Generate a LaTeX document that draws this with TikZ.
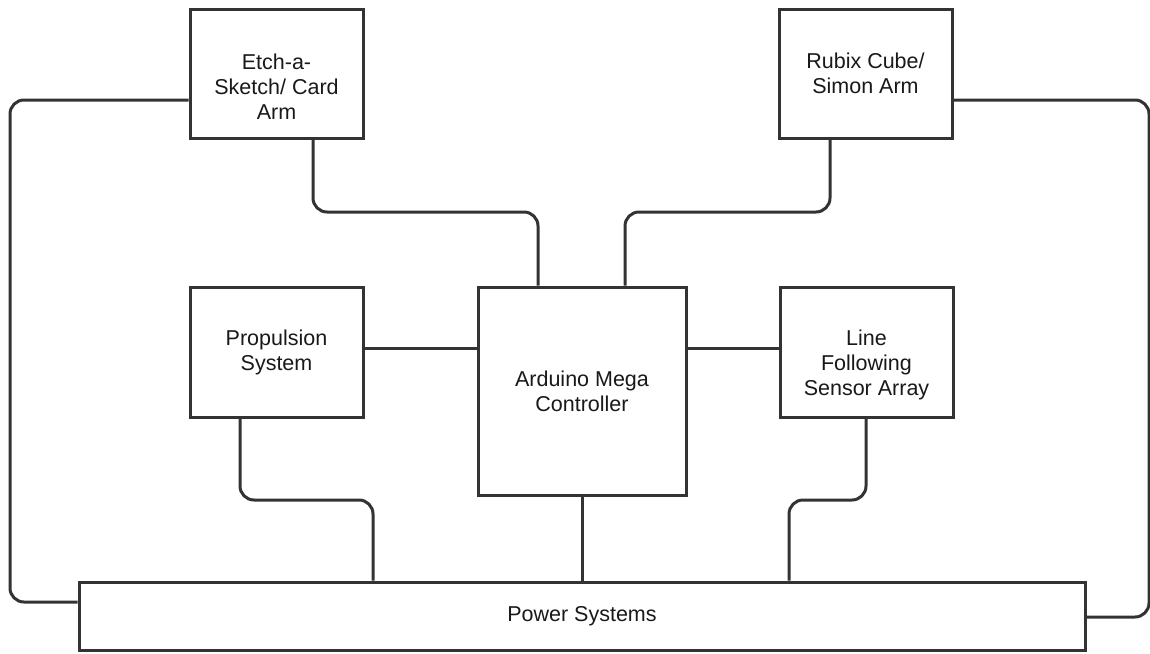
\documentclass[tikz,border=0pt]{standalone}
\usepackage{fontspec}
\setmainfont{Liberation Sans}
\usepackage{tikz}
\usetikzlibrary{positioning}
\definecolor{mgray}{rgb}{0.2, 0.2, 0.2}
\tikzset{block/.style = {draw=mgray, line width=3pt, fill=white, inner sep=0pt,
                         align=center, text=black!90}}
\tikzset{blocktext/.style = {align=center, text=black!90, inner sep=0pt}}
\tikzset{wire/.style = {draw=mgray, line width=3pt, rounded corners=14pt}}

\begin{document}
\begin{tikzpicture}[x=1pt, y=-1pt, font=\fontsize{21.5}{25}\selectfont]
      \useasboundingbox (0, 0) rectangle (1150, 653);
      \node [block, minimum width=173pt, minimum height=129pt] (etch) at (276.5, 73.5) {};
      \node [blocktext] (etchtext) at ([yshift=-13pt]etch.center) {Etch-a-\\Sketch/ Card\\Arm};
      \node [block, minimum width=173pt, minimum height=129pt] (rubix) at (865.5, 73.5) {Rubix Cube/\\Simon Arm};
      \node [block, minimum width=173pt, minimum height=130pt] (prop) at (276.5, 352) {Propulsion\\System};
      \node [block, minimum width=208pt, minimum height=208pt] (ard) at (582, 391) {Arduino Mega\\Controller};
      \node [block, minimum width=173pt, minimum height=130pt] (line) at (866.5, 352) {};
      \node [blocktext] (linetext) at ([yshift=-13pt]line.center) {Line\\Following\\Sensor Array};
      \node [block, minimum width=1006pt, minimum height=68pt] (power) at (582, 616) {Power Systems};
      \draw [wire] (etch.south -| 313, 0) -- (313, 212) -- (538, 212) -- (ard.north -| 538, 0);
      \draw [wire] (rubix.south -| 830, 0) -- (830, 212) -- (625, 212) -- (ard.north -| 625, 0);
      \draw [wire] ([yshift=-26.5pt]etch.west) -- (10, 100) -- (10, 602) -- (power.west |- 0, 602);
      \draw [wire] ([yshift=-26.5pt]rubix.east) -- (1149, 100) -- (1149, 617) -- (power.east |- 0, 617);
      \draw [wire] (prop.east |- 0, 348) -- (ard.west |- 0, 348);
      \draw [wire] (ard.east |- 0, 348) -- (line.west |- 0, 348);
      \draw [wire] (prop.south -| 240, 0) -- (240, 500) -- (373, 500) -- (power.north -| 373, 0);
      \draw [wire] (line.south -| 866, 0) -- (866, 500) -- (789, 500) -- (power.north -| 789, 0);
      \draw [wire] (ard) -- (power);
    \end{tikzpicture}
\end{document}
